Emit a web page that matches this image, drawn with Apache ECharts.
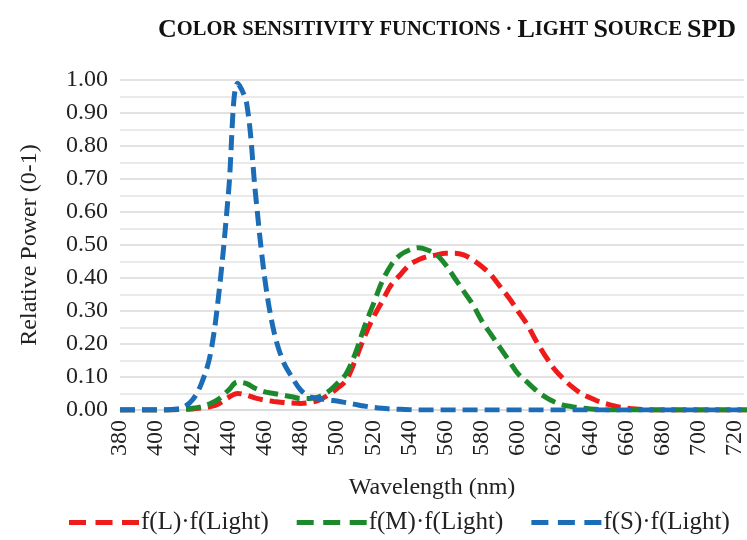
<!DOCTYPE html>
<html>
<head>
<meta charset="utf-8">
<script src="https://cdn.jsdelivr.net/npm/echarts@6/dist/echarts.min.js"></script>
<style>
  html, body { margin: 0; padding: 0; background: #fff; }
  #chart { width: 747px; height: 540px; }
</style>
</head>
<body>
<div id="chart"></div>
<script>
// wavelength (nm), step 5
const wavelengths = [];
for (let w = 380; w <= 730; w += 5) wavelengths.push(w);

const tickLabels = ['0.00','0.10','0.20','0.30','0.40','0.50','0.60','0.70','0.80','0.90','1.00'];
const seriesNames = ['f(L)·f(Light)', 'f(M)·f(Light)', 'f(S)·f(Light)'];
const seriesColors = ['#ef1b1b', '#1c8a2c', '#1c6db8'];

// f(L)·f(Light)
const lValues = [
  0, 0, 0, 0, 0, 0, 0.001, 0.002, 0.003, 0.006, 0.01, 0.02, 0.038, 0.05, 0.045, 0.036,
  0.03, 0.026, 0.023, 0.021, 0.02, 0.023, 0.03, 0.045, 0.065, 0.09, 0.15, 0.22, 0.28, 0.33,
  0.38, 0.41, 0.44, 0.455, 0.465, 0.47, 0.475, 0.475, 0.47, 0.455, 0.435, 0.41, 0.375, 0.34,
  0.30, 0.26, 0.21, 0.165, 0.125, 0.095, 0.07, 0.05, 0.037, 0.025, 0.017, 0.01, 0.006, 0.003,
  0.001, 0, 0, 0, 0, 0, 0, 0, 0, 0, 0, 0, 0
];
// f(M)·f(Light)
const mValues = [
  0, 0, 0, 0, 0, 0, 0.001, 0.003, 0.005, 0.01, 0.02, 0.035, 0.06, 0.085, 0.08, 0.065,
  0.055, 0.05, 0.045, 0.04, 0.035, 0.035, 0.04, 0.055, 0.08, 0.11, 0.17, 0.25, 0.32, 0.39,
  0.44, 0.47, 0.485, 0.492, 0.485, 0.47, 0.44, 0.40, 0.36, 0.32, 0.27, 0.23, 0.19, 0.15,
  0.11, 0.085, 0.06, 0.04, 0.025, 0.015, 0.01, 0.006, 0.003, 0.001, 0, 0, 0, 0,
  0, 0, 0, 0, 0, 0, 0, 0, 0, 0, 0, 0, 0
];
// f(S)·f(Light)
const sValues = [
  0, 0, 0, 0, 0, 0, 0.002, 0.008, 0.03, 0.08, 0.17, 0.37, 0.66, 0.99, 0.93, 0.65,
  0.40, 0.24, 0.15, 0.10, 0.06, 0.04, 0.035, 0.03, 0.027, 0.022, 0.017, 0.012, 0.008, 0.005,
  0.003, 0.002, 0.001, 0, 0, 0, 0, 0, 0, 0, 0, 0, 0, 0,
  0, 0, 0, 0, 0, 0, 0, 0, 0, 0, 0, 0, 0, 0,
  0, 0, 0, 0, 0, 0, 0, 0, 0, 0, 0, 0, 0
];

const font = '"Liberation Serif", "Times New Roman", serif';
const pair = (vals) => wavelengths.map((w, i) => [w, vals[i]]);
const dashIcon = 'path://M0,0h17v5h-17z M26.5,0h17v5h-17z M53,0h17v5h-17z';

const chart = echarts.init(document.getElementById('chart'));
const series = [lValues, mValues, sValues].map((vals, i) => ({
  name: seriesNames[i],
  type: 'line',
  data: pair(vals),
  smooth: 0.35,
  symbol: 'none',
  clip: true,
  lineStyle: { color: seriesColors[i], width: 5, type: [15, 7] },
  itemStyle: { color: seriesColors[i] },
}));

chart.setOption({
  animation: false,
  title: {
    text: '{a|C}{b|OLOR SENSITIVITY FUNCTIONS · }{a|L}{b|IGHT }{a|S}{b|OURCE }{a|SPD}',
    left: 153,
    top: 12,
    textStyle: {
      rich: {
        a: { fontFamily: font, fontWeight: 'bold', fontSize: 26, color: '#111' },
        b: { fontFamily: font, fontWeight: 'bold', fontSize: 20.5, color: '#111' },
      },
    },
  },
  grid: { left: 120, right: 1, top: 80, bottom: 130 },
  legend: {
    bottom: 0,
    left: 64,
    icon: dashIcon,
    itemWidth: 70,
    itemHeight: 5,
    itemGap: 28,
    textStyle: { fontFamily: font, fontSize: 25, color: '#222', padding: [0, 0, 0, -3] },
    data: seriesNames,
  },
  xAxis: {
    type: 'value',
    min: 380,
    max: 725,
    interval: 20,
    name: 'Wavelength (nm)',
    nameLocation: 'middle',
    nameGap: 66,
    nameTextStyle: { fontFamily: font, fontSize: 24, color: '#222' },
    axisLine: { show: true, lineStyle: { color: '#d9d9d9', width: 1.5 } },
    axisTick: { show: false },
    splitLine: { show: false },
    axisLabel: {
      rotate: 90,
      margin: 10,
      showMaxLabel: false,
      fontFamily: font,
      fontSize: 24,
      color: '#222',
    },
  },
  yAxis: {
    type: 'value',
    min: 0,
    max: 1,
    interval: 0.1,
    name: 'Relative Power (0-1)',
    nameLocation: 'middle',
    nameGap: 78,
    nameTextStyle: { fontFamily: font, fontSize: 24, color: '#222' },
    axisLine: { show: false },
    axisTick: { show: false },
    splitLine: { lineStyle: { color: '#d9d9d9', width: 1.5 } },
    minorSplitLine: { show: true, lineStyle: { color: '#e3e3e3', width: 1.5 } },
    minorTick: { show: false, splitNumber: 2 },
    axisLabel: {
      margin: 12,
      fontFamily: font,
      fontSize: 24,
      color: '#222',
      formatter: (v) => tickLabels[Math.round(v * 10)],
    },
  },
  series: series,
});
</script>
</body>
</html>
